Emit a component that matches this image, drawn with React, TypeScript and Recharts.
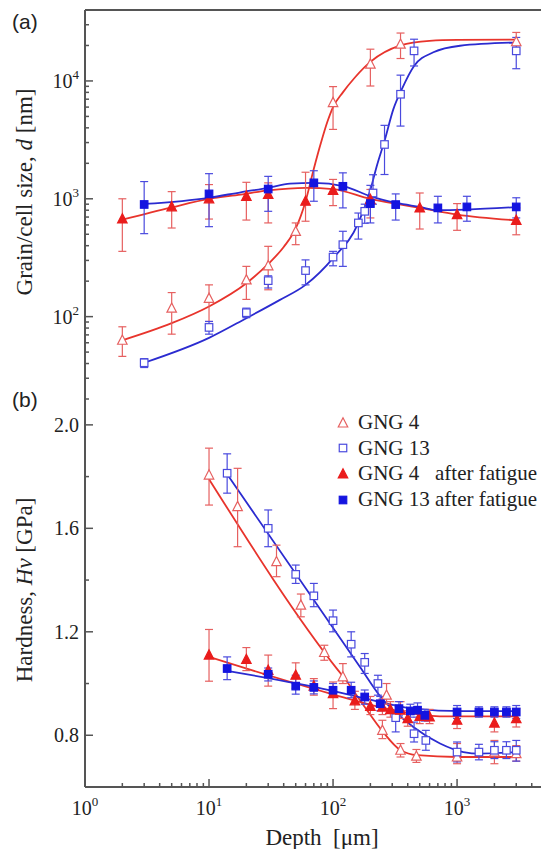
import React from "react";
import {
  ComposedChart,
  Line,
  Scatter,
  XAxis,
  YAxis,
  ErrorBar,
  Legend,
  ReferenceLine,
} from "recharts";

// depth axis (shared by both panels), log scale
const depthTicks = [
  1, 2, 3, 4, 5, 6, 7, 8, 9, 10, 20, 30, 40, 50, 60, 70, 80, 90, 100, 200, 300,
  400, 500, 600, 700, 800, 900, 1000, 2000, 3000, 4000,
];
const depthLabels = [1, 10, 100, 1000];
const depthExp = ["0", "1", "2", "3"];

// panel (a) grain size axis, log scale
const grainTicks = [
  20, 30, 40, 50, 60, 70, 80, 90, 100, 200, 300, 400, 500, 600, 700, 800, 900,
  1000, 2000, 3000, 4000, 5000, 6000, 7000, 8000, 9000, 10000, 20000, 30000,
  40000,
];
const grainLabels = [100, 1000, 10000];
const grainExp = ["2", "3", "4"];

// panel (b) hardness axis
const hardTicks = [0.8, 1.0, 1.2, 1.4, 1.6, 1.8, 2.0];
const hardLabels = [0.8, 1.2, 1.6, 2.0];
const hardText = ["0.8", "1.2", "1.6", "2.0"];

const legendNames = ["GNG 4", "GNG 13", "GNG 4   after fatigue", "GNG 13 after fatigue"];

// ---- panel (a) points: value, lower and upper error limits ----
const a4X = [2, 5, 10, 20, 30, 50, 100, 200, 350, 3000];
const a4Y = [63, 118, 143, 205, 270, 528, 6550, 13900, 20500, 21500];
const a4Lo = [46, 71, 91, 140, 169, 408, 3880, 9060, 15500, 19900];
const a4Hi = [82, 160, 186, 267, 395, 624, 8950, 18600, 25500, 25800];

const a13X = [3, 10, 20, 30, 60, 100, 120, 160, 180, 210, 260, 350, 450, 3000];
const a13Y = [40.6, 81, 108, 202, 246, 320, 408, 624, 783, 1120, 2890, 7710, 18000, 18000];
const a13Lo = [37, 71, 98, 175, 186, 270, 267, 455, 620, 900, 1607, 4140, 13400, 12700];
const a13Hi = [44, 91, 118, 222, 303, 358, 530, 757, 900, 1600, 4200, 11200, 22600, 23400];

const a4fX = [2, 5, 10, 20, 30, 60, 100, 200, 500, 1000, 3000];
const a4fY = [675, 855, 1000, 1050, 1087, 953, 1180, 985, 837, 734, 656];
const a4fLo = [358, 565, 673, 660, 624, 645, 875, 688, 554, 540, 495];
const a4fHi = [1000, 1150, 1320, 1380, 1365, 1680, 1460, 1200, 1120, 910, 837];

const a13fX = [3, 10, 30, 70, 120, 200, 320, 700, 1200, 3000];
const a13fY = [895, 1100, 1210, 1365, 1276, 910, 893, 837, 853, 853];
const a13fLo = [506, 580, 783, 953, 837, 624, 660, 624, 645, 688];
const a13fHi = [1400, 1634, 1550, 1730, 1660, 1300, 1100, 1050, 1050, 1020];

// ---- panel (a) fitted curves ----
const fa4X = [2, 5, 10, 20, 30, 40, 50, 60, 70, 80, 90, 100, 120, 150, 200, 350, 600, 1000, 3000];
const fa4Y = [63, 88, 122, 192, 280, 390, 560, 950, 1800, 3000, 4500, 6000, 8000, 10700, 14500, 20000, 21900, 22300, 22400];

const fa13X = [3, 10, 20, 37, 60, 100, 160, 200, 225, 262, 306, 358, 450, 644, 1057, 3000];
const fa13Y = [40.6, 66, 97, 138, 186, 314, 624, 1190, 1890, 3190, 5740, 8490, 13400, 17500, 19900, 21200];

const fa4fX = [2, 5, 10, 18, 30, 61, 100, 200, 326, 500, 1000, 3000];
const fa4fY = [664, 846, 1000, 1087, 1180, 1240, 1210, 1000, 905, 837, 734, 656];

const fa13fX = [3, 10, 18, 30, 45, 70, 123, 200, 326, 500, 700, 1200, 3000];
const fa13fY = [905, 1020, 1136, 1240, 1346, 1365, 1276, 1050, 923, 853, 800, 810, 850];

// ---- panel (b) points ----
const b4X = [10, 17, 35, 55, 85, 120, 250, 270, 350, 470, 1000, 2000, 3000];
const b4Y = [1.806, 1.684, 1.471, 1.303, 1.12, 1.026, 0.819, 0.955, 0.742, 0.719, 0.716, 0.735, 0.729];
const b4Lo = [1.69, 1.529, 1.413, 1.258, 1.09, 1.0, 0.787, 0.92, 0.716, 0.695, 0.69, 0.69, 0.7];
const b4Hi = [1.91, 1.832, 1.535, 1.346, 1.148, 1.077, 0.858, 1.0, 0.768, 0.745, 0.768, 0.78, 0.76];

const b13X = [14, 30, 50, 70, 100, 140, 180, 230, 320, 450, 560, 1000, 1500, 2000, 2500, 3000];
const b13Y = [1.813, 1.6, 1.422, 1.339, 1.243, 1.152, 1.082, 1.0, 0.868, 0.806, 0.78, 0.735, 0.735, 0.742, 0.742, 0.742];
const b13Lo = [1.736, 1.529, 1.387, 1.297, 1.2, 1.103, 1.039, 0.955, 0.813, 0.774, 0.742, 0.697, 0.705, 0.71, 0.71, 0.7];
const b13Hi = [1.888, 1.671, 1.458, 1.387, 1.284, 1.2, 1.116, 1.032, 0.916, 0.851, 0.819, 0.774, 0.765, 0.775, 0.775, 0.78];

const b4fX = [10, 20, 30, 50, 70, 100, 150, 200, 250, 290, 350, 400, 500, 600, 1000, 2000, 3000];
const b4fY = [1.11, 1.093, 1.051, 1.032, 0.99, 0.961, 0.933, 0.912, 0.909, 0.899, 0.897, 0.864, 0.873, 0.871, 0.858, 0.847, 0.864];
const b4fLo = [1.009, 1.05, 0.99, 0.981, 0.955, 0.903, 0.9, 0.88, 0.88, 0.87, 0.865, 0.835, 0.845, 0.845, 0.826, 0.813, 0.832];
const b4fHi = [1.209, 1.139, 1.11, 1.08, 1.019, 1.006, 0.97, 0.95, 0.94, 0.93, 0.93, 0.895, 0.9, 0.9, 0.897, 0.89, 0.903];

const b13fX = [14, 30, 50, 70, 100, 140, 180, 240, 340, 420, 480, 550, 1000, 1500, 2000, 2500, 3000];
const b13fY = [1.058, 1.036, 0.99, 0.985, 0.974, 0.974, 0.948, 0.922, 0.903, 0.894, 0.897, 0.877, 0.89, 0.89, 0.89, 0.89, 0.89];
const b13fLo = [1.015, 1.01, 0.959, 0.96, 0.948, 0.945, 0.92, 0.895, 0.875, 0.87, 0.87, 0.855, 0.865, 0.87, 0.87, 0.87, 0.865];
const b13fHi = [1.103, 1.06, 1.032, 1.01, 1.0, 1.005, 0.975, 0.95, 0.93, 0.92, 0.925, 0.9, 0.915, 0.91, 0.91, 0.91, 0.915];

// ---- panel (b) fitted curves ----
const fb4X = [10, 110, 121, 176, 247, 351, 478, 1000, 3000];
const fb4Y = [1.79, 1.051, 1.026, 0.916, 0.819, 0.742, 0.723, 0.716, 0.716];

const fb13X = [14, 165, 239, 444, 729, 1124, 1532, 3000];
const fb13Y = [1.809, 1.064, 0.952, 0.832, 0.768, 0.735, 0.729, 0.735];

const fb4fX = [10, 95, 239, 444, 826, 3000];
const fb4fY = [1.103, 0.961, 0.909, 0.884, 0.873, 0.873];

const fb13fX = [14, 95, 239, 444, 1124, 3000];
const fb13fY = [1.049, 0.974, 0.929, 0.903, 0.893, 0.893];

const AX = "#555";
const TXT = "#222";
const SERIF = "'Liberation Serif', 'Times New Roman', serif";
const SANS = "'Liberation Sans', Arial, sans-serif";

const RED_LINE = "#e8342c";
const BLUE_LINE = "#2b2bd0";
const RED_OPEN = "#e66060";
const BLUE_OPEN = "#4a4ade";
const RED_FILL = "#ea1c1c";
const BLUE_FILL = "#1414e0";

const pts = (xs: number[], ys: number[], lo: number[], hi: number[]) =>
  xs.map((x, i) => ({ x, y: ys[i], err: [ys[i] - lo[i], hi[i] - ys[i]] }));
const curve = (xs: number[], ys: number[]) => xs.map((x, i) => ({ x, y: ys[i] }));

const triangle = (stroke: string, fill: string) => (p: any) => {
  const { cx, cy } = p;
  const s = 9.5;
  return (
    <polygon
      points={`${cx},${cy - s * 0.55} ${cx - s / 2},${cy + s * 0.42} ${cx + s / 2},${cy + s * 0.42}`}
      fill={fill}
      stroke={stroke}
      strokeWidth={1.2}
    />
  );
};

const square = (stroke: string, fill: string) => (p: any) => {
  const { cx, cy } = p;
  const s = 7.5;
  return (
    <rect x={cx - s / 2} y={cy - s / 2} width={s} height={s} fill={fill} stroke={stroke} strokeWidth={1.2} />
  );
};

function depthTick(p: any, labels: boolean) {
  const { x, y, payload } = p;
  const i = depthLabels.indexOf(payload.value);
  const len = i >= 0 ? 8 : 4;
  return (
    <g>
      <line x1={x} x2={x} y1={y} y2={y - len} stroke={AX} strokeWidth={1.5} />
      {labels && i >= 0 && (
        <text x={x} y={y + 28} textAnchor="middle" fontFamily={SERIF} fontSize={20} fill={TXT}>
          10
          <tspan dy={-9} fontSize={13}>
            {depthExp[i]}
          </tspan>
        </text>
      )}
    </g>
  );
}

function grainTick(p: any) {
  const { x, y, payload } = p;
  const i = grainLabels.indexOf(payload.value);
  const len = i >= 0 ? 8 : 4;
  return (
    <g>
      <line x1={x} x2={x + len} y1={y} y2={y} stroke={AX} strokeWidth={1.5} />
      {i >= 0 && (
        <text x={x - 6} y={y + 7} textAnchor="end" fontFamily={SERIF} fontSize={20} fill={TXT}>
          10
          <tspan dy={-9} fontSize={13}>
            {grainExp[i]}
          </tspan>
        </text>
      )}
    </g>
  );
}

function hardTick(p: any) {
  const { x, y, payload } = p;
  const i = hardLabels.indexOf(payload.value);
  const len = i >= 0 ? 8 : 4;
  return (
    <g>
      <line x1={x} x2={x + len} y1={y} y2={y} stroke={AX} strokeWidth={1.5} />
      {i >= 0 && (
        <text x={x - 6} y={y + 7} textAnchor="end" fontFamily={SERIF} fontSize={20} fill={TXT}>
          {hardText[i]}
        </text>
      )}
    </g>
  );
}

const legendMarks = [
  triangle(RED_OPEN, "none"),
  square(BLUE_OPEN, "none"),
  triangle(RED_FILL, RED_FILL),
  square(BLUE_FILL, BLUE_FILL),
];

function LegendBox() {
  return (
    <div style={{ fontFamily: SERIF, fontSize: 21, color: TXT }}>
      {legendNames.map((n, i) => (
        <div key={n} style={{ height: 25.6, lineHeight: "25.6px", display: "flex", alignItems: "center" }}>
          <svg width={14} height={14} style={{ marginRight: 8 }}>
            {legendMarks[i]({ cx: 7, cy: 7 })}
          </svg>
          <span style={{ whiteSpace: "pre" }}>{n}</span>
        </div>
      ))}
    </div>
  );
}

export default function App() {
  return (
    <div style={{ position: "absolute", left: 0, top: 0, width: 541, height: 849, background: "#fff" }}>
      {/* panel (a) */}
      <div style={{ position: "absolute", left: 0, top: 0 }}>
        <ComposedChart width={541} height={400} margin={{ top: 10, right: 0, bottom: 1, left: 25 }}>
          <XAxis
            dataKey="x"
            type="number"
            scale="log"
            domain={[1, 4750]}
            allowDataOverflow
            ticks={depthTicks}
            interval={0}
            height={0}
            tickSize={0}
            tickMargin={0}
            tickLine={false}
            tick={(p: any) => depthTick(p, false)}
            axisLine={{ stroke: AX, strokeWidth: 2 }}
          />
          <YAxis
            dataKey="y"
            type="number"
            scale="log"
            domain={[20, 40000]}
            allowDataOverflow
            ticks={grainTicks}
            interval={0}
            width={60}
            tickSize={0}
            tickMargin={0}
            tickLine={false}
            tick={grainTick}
            axisLine={{ stroke: AX, strokeWidth: 2 }}
          />
          <ReferenceLine y={40000} stroke={AX} strokeWidth={2} />
          <Line data={curve(fa4X, fa4Y)} dataKey="y" type="monotone" stroke={RED_LINE} strokeWidth={1.8} dot={false} isAnimationActive={false} />
          <Line data={curve(fa13X, fa13Y)} dataKey="y" type="monotone" stroke={BLUE_LINE} strokeWidth={1.8} dot={false} isAnimationActive={false} />
          <Line data={curve(fa4fX, fa4fY)} dataKey="y" type="monotone" stroke={RED_LINE} strokeWidth={1.8} dot={false} isAnimationActive={false} />
          <Line data={curve(fa13fX, fa13fY)} dataKey="y" type="monotone" stroke={BLUE_LINE} strokeWidth={1.8} dot={false} isAnimationActive={false} />
          <Scatter data={pts(a4X, a4Y, a4Lo, a4Hi)} shape={triangle(RED_OPEN, "#fff")} isAnimationActive={false}>
            <ErrorBar dataKey="err" direction="y" width={4} stroke={RED_OPEN} strokeWidth={1.2} isAnimationActive={false} />
          </Scatter>
          <Scatter data={pts(a13X, a13Y, a13Lo, a13Hi)} shape={square(BLUE_OPEN, "#fff")} isAnimationActive={false}>
            <ErrorBar dataKey="err" direction="y" width={4} stroke={BLUE_OPEN} strokeWidth={1.2} isAnimationActive={false} />
          </Scatter>
          <Scatter data={pts(a4fX, a4fY, a4fLo, a4fHi)} shape={triangle(RED_FILL, RED_FILL)} isAnimationActive={false}>
            <ErrorBar dataKey="err" direction="y" width={4} stroke={RED_OPEN} strokeWidth={1.2} isAnimationActive={false} />
          </Scatter>
          <Scatter data={pts(a13fX, a13fY, a13fLo, a13fHi)} shape={square(BLUE_FILL, BLUE_FILL)} isAnimationActive={false}>
            <ErrorBar dataKey="err" direction="y" width={4} stroke={BLUE_OPEN} strokeWidth={1.2} isAnimationActive={false} />
          </Scatter>
        </ComposedChart>
      </div>

      {/* panel (b) */}
      <div style={{ position: "absolute", left: 0, top: 389 }}>
        <ComposedChart width={541} height={460} margin={{ top: 10, right: 0, bottom: 0, left: 25 }}>
          <XAxis
            dataKey="x"
            type="number"
            scale="log"
            domain={[1, 4750]}
            allowDataOverflow
            ticks={depthTicks}
            interval={0}
            height={62}
            tickSize={0}
            tickMargin={0}
            tickLine={false}
            tick={(p: any) => depthTick(p, true)}
            axisLine={{ stroke: AX, strokeWidth: 2 }}
          />
          <YAxis
            dataKey="y"
            type="number"
            domain={[0.6, 2.1]}
            allowDataOverflow
            ticks={hardTicks}
            interval={0}
            width={60}
            tickSize={0}
            tickMargin={0}
            tickLine={false}
            tick={hardTick}
            axisLine={{ stroke: AX, strokeWidth: 2 }}
          />
          <Legend
            layout="horizontal"
            verticalAlign="middle"
            align="center"
            content={() => <LegendBox />}
            wrapperStyle={{ position: "absolute", left: 336, top: 21, width: "auto", height: "auto" }}
          />
          <Line data={curve(fb4X, fb4Y)} dataKey="y" type="monotone" stroke={RED_LINE} strokeWidth={1.8} dot={false} isAnimationActive={false} />
          <Line data={curve(fb13X, fb13Y)} dataKey="y" type="monotone" stroke={BLUE_LINE} strokeWidth={1.8} dot={false} isAnimationActive={false} />
          <Line data={curve(fb4fX, fb4fY)} dataKey="y" type="monotone" stroke={RED_LINE} strokeWidth={1.8} dot={false} isAnimationActive={false} />
          <Line data={curve(fb13fX, fb13fY)} dataKey="y" type="monotone" stroke={BLUE_LINE} strokeWidth={1.8} dot={false} isAnimationActive={false} />
          <Scatter data={pts(b4X, b4Y, b4Lo, b4Hi)} shape={triangle(RED_OPEN, "#fff")} isAnimationActive={false}>
            <ErrorBar dataKey="err" direction="y" width={4} stroke={RED_OPEN} strokeWidth={1.2} isAnimationActive={false} />
          </Scatter>
          <Scatter data={pts(b13X, b13Y, b13Lo, b13Hi)} shape={square(BLUE_OPEN, "#fff")} isAnimationActive={false}>
            <ErrorBar dataKey="err" direction="y" width={4} stroke={BLUE_OPEN} strokeWidth={1.2} isAnimationActive={false} />
          </Scatter>
          <Scatter data={pts(b4fX, b4fY, b4fLo, b4fHi)} shape={triangle(RED_FILL, RED_FILL)} isAnimationActive={false}>
            <ErrorBar dataKey="err" direction="y" width={4} stroke={RED_OPEN} strokeWidth={1.2} isAnimationActive={false} />
          </Scatter>
          <Scatter data={pts(b13fX, b13fY, b13fLo, b13fHi)} shape={square(BLUE_FILL, BLUE_FILL)} isAnimationActive={false}>
            <ErrorBar dataKey="err" direction="y" width={4} stroke={BLUE_OPEN} strokeWidth={1.2} isAnimationActive={false} />
          </Scatter>
        </ComposedChart>
      </div>

      {/* panel letters and axis titles */}
      <svg width={541} height={849} style={{ position: "absolute", left: 0, top: 0, pointerEvents: "none" }}>
        <text x={12} y={29} fontFamily={SANS} fontSize={21} fill={TXT}>
          (a)
        </text>
        <text x={12} y={407} fontFamily={SANS} fontSize={21} fill={TXT}>
          (b)
        </text>
        <text transform="translate(32,192) rotate(-90)" textAnchor="middle" fontFamily={SERIF} fontSize={23} fill={TXT}>
          Grain/cell size, <tspan fontStyle="italic">d</tspan> [nm]
        </text>
        <text transform="translate(32,590) rotate(-90)" textAnchor="middle" fontFamily={SERIF} fontSize={23} fill={TXT}>
          Hardness, <tspan fontStyle="italic">Hv</tspan> [GPa]
        </text>
        <text x={322} y={845} textAnchor="middle" fontFamily={SERIF} fontSize={23} fill={TXT} xmlSpace="preserve" style={{ whiteSpace: "pre" }}>
          {"Depth  [\u03bcm]"}
        </text>
      </svg>
    </div>
  );
}
